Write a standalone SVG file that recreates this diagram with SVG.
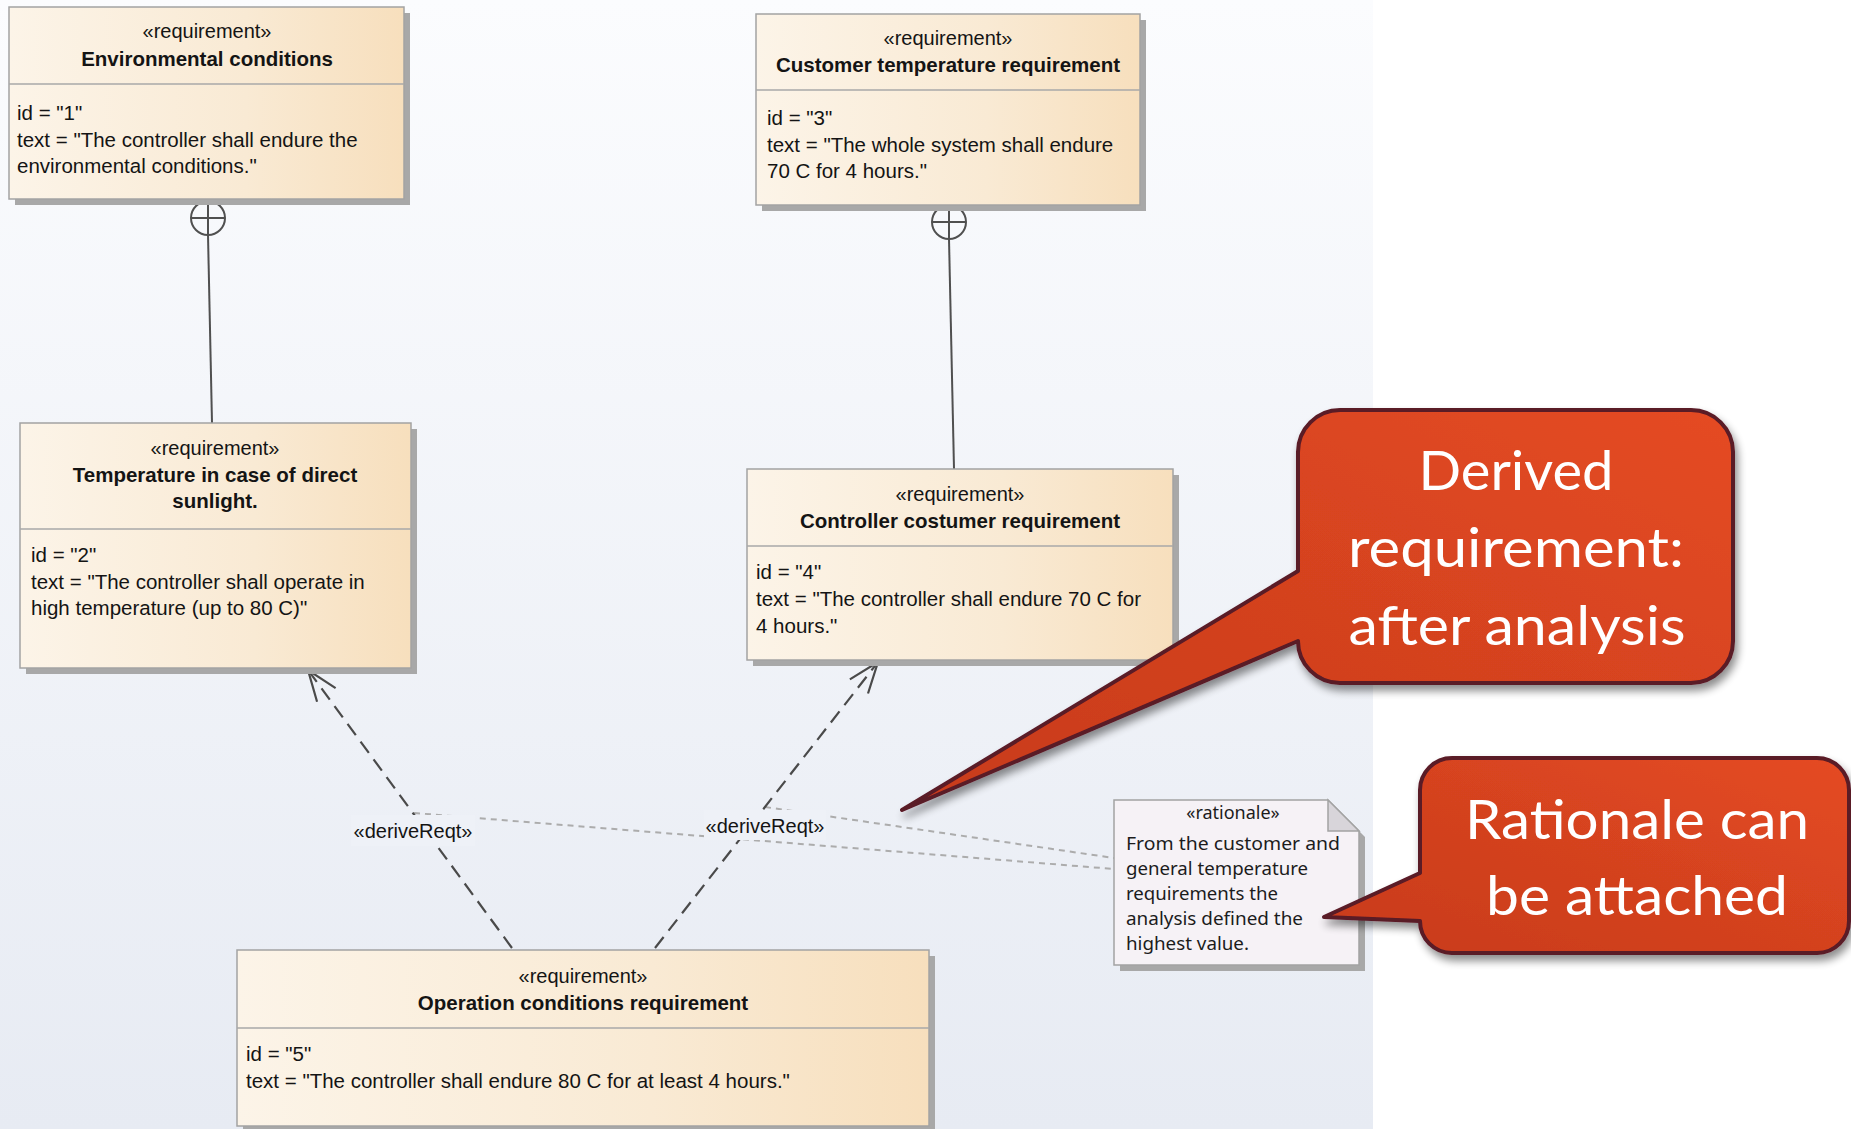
<svg xmlns="http://www.w3.org/2000/svg" width="1851" height="1129" viewBox="0 0 1851 1129">
  <defs>
    <linearGradient id="canvasFill" x1="0" y1="0" x2="0" y2="1">
      <stop offset="0" stop-color="#fbfcfe"/>
      <stop offset="1" stop-color="#e7ebf3"/>
    </linearGradient>
    <linearGradient id="reqFill" x1="0" y1="0" x2="1" y2="0">
      <stop offset="0" stop-color="#fcf4e8"/>
      <stop offset="0.6" stop-color="#f9ead4"/>
      <stop offset="1" stop-color="#f7dfbd"/>
    </linearGradient>
    <linearGradient id="calloutFill" x1="0" y1="1" x2="1" y2="0">
      <stop offset="0" stop-color="#c83b1d"/>
      <stop offset="0.5" stop-color="#d4421f"/>
      <stop offset="1" stop-color="#e54b22"/>
    </linearGradient>
    <filter id="softShadow" x="-10%" y="-10%" width="130%" height="140%">
      <feGaussianBlur in="SourceAlpha" stdDeviation="4"/>
      <feOffset dx="3" dy="6" result="b"/>
      <feComponentTransfer><feFuncA type="linear" slope="0.45"/></feComponentTransfer>
      <feMerge><feMergeNode/><feMergeNode in="SourceGraphic"/></feMerge>
    </filter>
    <marker id="openArrow" viewBox="-34 -14 36 28" refX="0" refY="0" markerWidth="36" markerHeight="28" markerUnits="userSpaceOnUse" orient="auto">
      <path d="M-31,-11.5 L0,0 L-31,11.5" fill="none" stroke="#4a4a4a" stroke-width="2.2"/>
    </marker>
  </defs>
  <style>
    .shadow { fill: #a8a8a8; }
    .box { fill: url(#reqFill); stroke: #a3a3a3; stroke-width: 1.5; }
    .sep { stroke: #a9a9a9; stroke-width: 1.5; }
    .stereo { font-family: "Liberation Sans", Arial, sans-serif; font-size: 20px; fill: #141414; text-anchor: middle; }
    .title { font-family: "Liberation Sans", Arial, sans-serif; font-size: 20.5px; font-weight: bold; fill: #141414; text-anchor: middle; }
    .body { font-family: "Liberation Sans", Arial, sans-serif; font-size: 20.5px; fill: #141414; }
    .contain { fill: none; stroke: #505050; stroke-width: 2; }
    .derive { fill: none; stroke: #4a4a4a; stroke-width: 2.2; stroke-dasharray: 14 8; }
    .anchor { fill: none; stroke: #acacac; stroke-width: 2; stroke-dasharray: 6 5; }
    .lblbg { fill: #eef1f7; }
    .lbl { font-family: "Liberation Sans", Arial, sans-serif; font-size: 20px; fill: #141414; text-anchor: middle; }
    .note { fill: #f6f2f6; stroke: #a3a3a3; stroke-width: 1.5; }
    .fold { fill: #d8d5da; stroke: #a3a3a3; stroke-width: 1.5; }
    .notetxt { font-family: "Noto Sans", "DejaVu Sans", sans-serif; font-size: 18px; fill: #1c1c1c; }
    .callout { fill: url(#calloutFill); stroke: #5a1a26; stroke-width: 4; stroke-linejoin: round; }
    .calltxt { font-family: Lato, "Open Sans", sans-serif; font-size: 54px; fill: #ffffff; text-anchor: middle; }
  </style>

  <!-- canvas -->
  <rect x="0" y="0" width="1851" height="1129" fill="#ffffff"/>
  <rect x="0" y="0" width="1373" height="1129" fill="url(#canvasFill)"/>

  <!-- connectors -->
  <g id="connectors">
    <!-- containment: Environmental conditions contains Temperature in case of direct sunlight -->
    <circle class="contain" cx="208" cy="218" r="17"/>
    <line class="contain" x1="191" y1="218" x2="225" y2="218"/>
    <line class="contain" x1="208" y1="201" x2="208" y2="235"/>
    <line class="contain" x1="208" y1="235" x2="212" y2="423"/>
    <!-- containment: Customer temperature requirement contains Controller costumer requirement -->
    <circle class="contain" cx="949" cy="222" r="17"/>
    <line class="contain" x1="932" y1="222" x2="966" y2="222"/>
    <line class="contain" x1="949" y1="205" x2="949" y2="239"/>
    <line class="contain" x1="949" y1="239" x2="954" y2="469"/>
    <!-- rationale anchors -->
    <line class="anchor" x1="765" y1="807" x2="1114" y2="858"/>
    <line class="anchor" x1="414" y1="813" x2="1114" y2="869"/>
    <!-- deriveReqt dependencies -->
    <line class="derive" x1="512" y1="948" x2="308" y2="670" marker-end="url(#openArrow)"/>
    <line class="derive" x1="655" y1="948" x2="878" y2="662" marker-end="url(#openArrow)"/>
    <rect class="lblbg" x="351" y="815" width="124" height="31"/>
    <text class="lbl" x="413" y="838">«deriveReqt»</text>
    <rect class="lblbg" x="704" y="810" width="122" height="30"/>
    <text class="lbl" x="765" y="833">«deriveReqt»</text>
  </g>

  <!-- requirement 1 -->
  <g id="req-environmental-conditions">
    <rect class="shadow" x="15" y="13" width="395" height="192"/>
    <rect class="box" x="9" y="7" width="395" height="192"/>
    <line class="sep" x1="9" y1="84" x2="404" y2="84"/>
    <text class="stereo" x="207" y="38">«requirement»</text>
    <text class="title" x="207" y="66">Environmental conditions</text>
    <text class="body" x="17" y="120">id = "1"</text>
    <text class="body" x="17" y="147">text = "The controller shall endure the</text>
    <text class="body" x="17" y="173">environmental conditions."</text>
  </g>

  <!-- requirement 2 -->
  <g id="req-direct-sunlight">
    <rect class="shadow" x="26" y="429" width="391" height="245"/>
    <rect class="box" x="20" y="423" width="391" height="245"/>
    <line class="sep" x1="20" y1="529" x2="411" y2="529"/>
    <text class="stereo" x="215" y="455">«requirement»</text>
    <text class="title" x="215" y="482">Temperature in case of direct</text>
    <text class="title" x="215" y="508">sunlight.</text>
    <text class="body" x="31" y="562">id = "2"</text>
    <text class="body" x="31" y="589">text = "The controller shall operate in</text>
    <text class="body" x="31" y="615">high temperature (up to 80 C)"</text>
  </g>

  <!-- requirement 3 -->
  <g id="req-customer-temperature">
    <rect class="shadow" x="762" y="20" width="384" height="191"/>
    <rect class="box" x="756" y="14" width="384" height="191"/>
    <line class="sep" x1="756" y1="90" x2="1140" y2="90"/>
    <text class="stereo" x="948" y="45">«requirement»</text>
    <text class="title" x="948" y="72">Customer temperature requirement</text>
    <text class="body" x="767" y="125">id = "3"</text>
    <text class="body" x="767" y="152">text = "The whole system shall endure</text>
    <text class="body" x="767" y="178">70 C for 4 hours."</text>
  </g>

  <!-- requirement 4 -->
  <g id="req-controller-customer">
    <rect class="shadow" x="753" y="475" width="426" height="191"/>
    <rect class="box" x="747" y="469" width="426" height="191"/>
    <line class="sep" x1="747" y1="546" x2="1173" y2="546"/>
    <text class="stereo" x="960" y="501">«requirement»</text>
    <text class="title" x="960" y="528">Controller costumer requirement</text>
    <text class="body" x="756" y="579">id = "4"</text>
    <text class="body" x="756" y="606">text = "The controller shall endure 70 C for</text>
    <text class="body" x="756" y="633">4 hours."</text>
  </g>

  <!-- requirement 5 -->
  <g id="req-operation-conditions">
    <rect class="shadow" x="243" y="956" width="692" height="176"/>
    <rect class="box" x="237" y="950" width="692" height="176"/>
    <line class="sep" x1="237" y1="1028" x2="929" y2="1028"/>
    <text class="stereo" x="583" y="983">«requirement»</text>
    <text class="title" x="583" y="1010">Operation conditions requirement</text>
    <text class="body" x="246" y="1061">id = "5"</text>
    <text class="body" x="246" y="1088">text = "The controller shall endure 80 C for at least 4 hours."</text>
  </g>

  <!-- rationale note -->
  <g id="rationale-note">
    <path class="shadow" d="M1120,806 H1334 L1365,837 V971 H1120 Z"/>
    <path class="note" d="M1114,800 H1328 L1359,831 V965 H1114 Z"/>
    <path class="fold" d="M1328,800 V831 H1359 Z"/>
    <text class="notetxt" x="1233" y="819" text-anchor="middle">«rationale»</text>
    <text class="notetxt" x="1126" y="850" textLength="214" lengthAdjust="spacingAndGlyphs">From the customer and</text>
    <text class="notetxt" x="1126" y="875" textLength="182" lengthAdjust="spacingAndGlyphs">general temperature</text>
    <text class="notetxt" x="1126" y="900" textLength="152" lengthAdjust="spacingAndGlyphs">requirements the</text>
    <text class="notetxt" x="1126" y="925" textLength="177" lengthAdjust="spacingAndGlyphs">analysis defined the</text>
    <text class="notetxt" x="1126" y="950" textLength="123" lengthAdjust="spacingAndGlyphs">highest value.</text>
  </g>

  <!-- callout: derived requirement -->
  <g id="callout-derived" filter="url(#softShadow)">
    <path class="callout" d="M1340,410 H1691 A42,42 0 0 1 1733,452 V641 A42,42 0 0 1 1691,683 H1340 A42,42 0 0 1 1298,641 L902,810 L1298,571 V452 A42,42 0 0 1 1340,410 Z"/>
    <text class="calltxt" x="1516" y="490" textLength="195" lengthAdjust="spacingAndGlyphs">Derived</text>
    <text class="calltxt" x="1516" y="567" textLength="336" lengthAdjust="spacingAndGlyphs">requirement:</text>
    <text class="calltxt" x="1517" y="645" textLength="337" lengthAdjust="spacingAndGlyphs">after analysis</text>
  </g>

  <!-- callout: rationale -->
  <g id="callout-rationale" filter="url(#softShadow)">
    <path class="callout" d="M1452,758 H1817 A32,32 0 0 1 1849,790 V921 A32,32 0 0 1 1817,953 H1452 A32,32 0 0 1 1420,921 L1324,917 L1420,873 V790 A32,32 0 0 1 1452,758 Z"/>
    <text class="calltxt" x="1637" y="839" textLength="344" lengthAdjust="spacingAndGlyphs">Rationale can</text>
    <text class="calltxt" x="1637" y="915" textLength="302" lengthAdjust="spacingAndGlyphs">be attached</text>
  </g>
</svg>
